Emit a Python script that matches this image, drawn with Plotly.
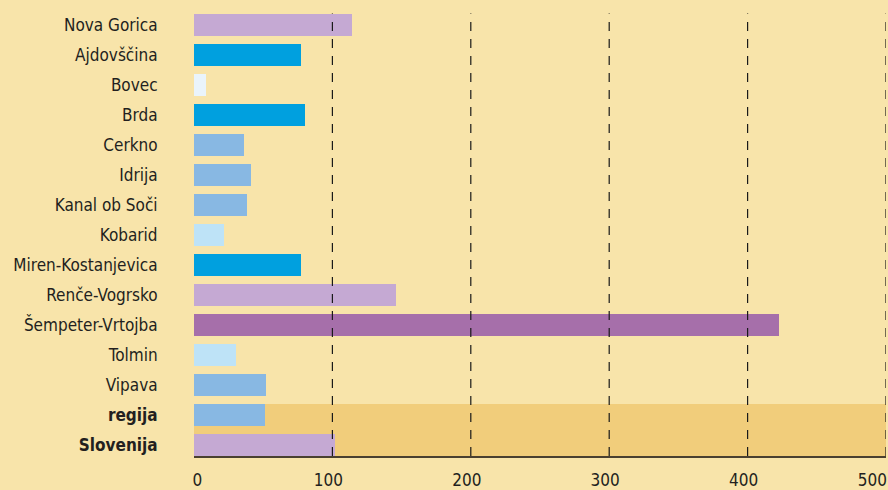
import plotly.graph_objects as go

categories = ["Nova Gorica", "Ajdovščina", "Bovec", "Brda", "Cerkno", "Idrija",
              "Kanal ob Soči", "Kobarid", "Miren-Kostanjevica", "Renče-Vogrsko",
              "Šempeter-Vrtojba", "Tolmin", "Vipava", "regija", "Slovenija"]
values = [114, 77, 9, 80, 36, 41, 38, 21.5, 77, 146, 423, 30, 52, 51, 102]
bar_colors = ["#C5A9D3", "#00A0DF", "#EAF4FB", "#00A0DF", "#88B8E3", "#88B8E3",
              "#88B8E3", "#BEE3F7", "#00A0DF", "#C5A9D3", "#A66FAA", "#BEE3F7",
              "#88B8E3", "#88B8E3", "#C5A9D3"]
bold_labels = ["regija", "Slovenija"]
x_ticks = [0, 100, 200, 300, 400, 500]
x_ticklabels = ["\u00a0\u00a0\u00a00", "100", "200", "300", "400",
                "500\u00a0\u00a0\u00a0\u00a0"]
grid_ticks = [100, 200, 300, 400, 500]

BG = "#F8E4AA"
BAND = "#F1CD7B"
FONT = "DejaVu Sans Condensed, Roboto, sans-serif"

n = len(categories)
ypos = [n - 1 - i for i in range(n)]
ticktext = [f"<b>{c}</b>" if c in bold_labels else c for c in categories]

fig = go.Figure()
fig.add_trace(go.Bar(
    x=values, y=ypos, orientation="h",
    marker=dict(color=bar_colors, line=dict(width=0)),
    width=0.733, hoverinfo="skip",
))

shapes = []
band_idx = [ypos[categories.index(c)] for c in bold_labels]
shapes.append(dict(type="rect", xref="x", yref="y", layer="below",
                   x0=x_ticks[0], x1=x_ticks[-1],
                   y0=min(band_idx) - 0.367, y1=max(band_idx) + 0.367,
                   fillcolor=BAND, line=dict(width=0)))
for t in grid_ticks:
    shapes.append(dict(type="line", xref="x", yref="paper", layer="above",
                       x0=t, x1=t, y0=0, y1=0.99,
                       line=dict(color="#1a1a1a", width=1.2, dash="9px,8px")))

fig.update_layout(
    width=888, height=490,
    margin=dict(l=194, r=2, t=9, b=34),
    paper_bgcolor=BG, plot_bgcolor=BG,
    showlegend=False,
    shapes=shapes,
    font=dict(family=FONT, size=17, color="#231f20"),
    bargap=0,
)
fig.update_xaxes(
    range=[0, 500], tickvals=x_ticks, ticktext=x_ticklabels,
    showgrid=False, zeroline=False, automargin=False,
    showline=True, linecolor="#4a4030", linewidth=1.5,
    ticks="outside", ticklen=0, ticklabelstandoff=8, ticklabelshift=-4,
    ticklabeloverflow="allow",
    tickfont=dict(family=FONT, size=17, color="#231f20"),
    fixedrange=True,
)
fig.update_yaxes(
    range=[-0.367, n - 1 + 0.533],
    tickvals=ypos, ticktext=ticktext, automargin=False,
    showgrid=False, zeroline=False, showline=False,
    ticks="outside", ticklen=0, ticklabelstandoff=32,
    tickfont=dict(family=FONT, size=17, color="#231f20"),
    fixedrange=True,
)

fig.write_html("out.html", config={"displayModeBar": False},
               post_script="document.body.style.margin='0';document.body.style.padding='0';")
